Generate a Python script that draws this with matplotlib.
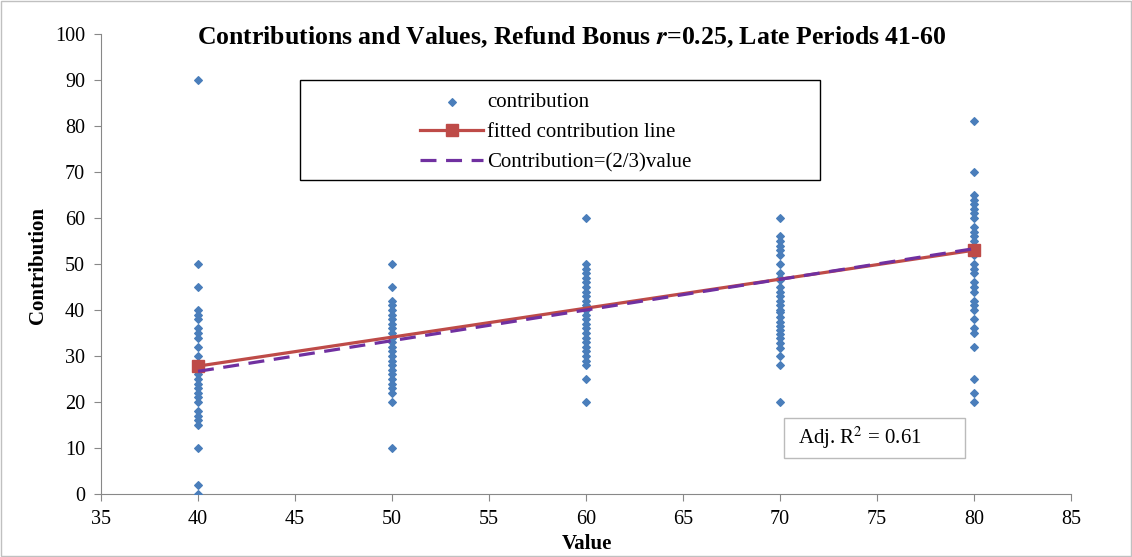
import numpy as np
import matplotlib.pyplot as plt

plt.rcParams['font.family'] = ['Liberation Serif', 'DejaVu Serif']
plt.rcParams['mathtext.fontset'] = 'stix'

# contributions, grouped by value
contrib_40 = [90, 50, 45, 40, 39, 38, 36, 35, 34, 32, 30, 28, 27, 26, 25, 24, 23,
              22, 21, 20, 18, 17, 16, 15, 10, 2, 0]
contrib_50 = [50, 45, 42, 41, 40, 39, 38, 37, 36, 35, 34, 33, 32, 31, 30, 29, 28,
              27, 26, 25, 24, 23, 22, 20, 10]
contrib_60 = [60, 50, 49, 48, 47, 46, 45, 44, 43, 42, 41, 40, 39, 38, 37, 36, 35,
              34, 33, 32, 31, 30, 29, 28, 25, 20]
contrib_70 = [60, 56, 55, 54, 53, 52, 50, 48, 47, 46.5, 45, 44, 43, 42, 41, 40, 39.5,
              38.5, 37.5, 36.5, 35.6, 34.7, 33.9, 32.8, 31.7, 30, 28, 20]
contrib_80 = [81, 70, 65, 64, 63, 62, 61, 60, 58, 57, 56, 55, 54, 52, 50, 49, 48,
              46, 45, 44, 42, 41, 40, 38, 36, 35, 32, 25, 22, 20]
groups = {40: contrib_40, 50: contrib_50, 60: contrib_60, 70: contrib_70, 80: contrib_80}

fit_x = [40, 80]
fit_y = [27.8, 53.0]
ref_x = [40, 80]
ref_y = [40 * 2 / 3, 80 * 2 / 3]

xs = []
ys = []
for v, c in groups.items():
    xs += [v] * len(c)
    ys += c

W, H = 1132, 557
fig = plt.figure(figsize=(W / 100, H / 100), dpi=100)
ax = fig.add_axes([101 / W, 1 - 494 / H, 970 / W, 460 / H])

ax.scatter(xs, ys, marker='D', s=15, color='#4a7ebb', zorder=3, label='contribution')
ax.plot(fit_x, fit_y, color='#be4b48', lw=2.3, marker='s', ms=9, zorder=4,
        label='fitted contribution line')
ax.plot(ref_x, ref_y, color='#7030a0', lw=2.3, ls=(0, (5, 3)), zorder=4,
        label='Contribution=(2/3)value')

ax.set_xlim(35, 85)
ax.set_ylim(0, 100)
ax.set_xticks(range(35, 90, 5))
ax.set_yticks(range(0, 110, 10))
ax.tick_params(labelsize=14.5, direction='out', length=5, color='#888888', pad=6.5)
for s in ['top', 'right']:
    ax.spines[s].set_visible(False)
for s in ['left', 'bottom']:
    ax.spines[s].set_color('#888888')

fig.text(587 / W, 1 - 544 / H, 'Value', fontsize=15, fontweight='bold', ha='center', va='center')
fig.text(38 / W, 1 - 265 / H, 'Contribution', fontsize=15, fontweight='bold',
         ha='center', va='center', rotation=90)
fig.text(572 / W, 1 - 37 / H,
         'Contributions and Values, Refund Bonus $\\mathbfit{r}$=0.25, Late Periods 41-60',
         ha='center', va='center', fontsize=18.5, fontweight='bold')

# legend box (drawn inside the axes so the legend sits on top of it)
ax.add_patch(plt.Rectangle((300 / W, 1 - 180 / H), 520 / W, 100 / H, transform=fig.transFigure,
                           fc='white', ec='black', lw=1.0, zorder=4.5, clip_on=False))
leg = ax.legend(loc='upper left', bbox_to_anchor=(410 / W, 1 - 82 / H),
                bbox_transform=fig.transFigure, fontsize=15, frameon=False,
                labelspacing=0.5, handlelength=3.0, handletextpad=0.2, borderpad=0)
leg.set_zorder(6)

# R^2 box
ax.add_patch(plt.Rectangle((784 / W, 1 - 458 / H), 181 / W, 40 / H, transform=fig.transFigure,
                           fc='white', ec='#bbbbbb', lw=1.0, zorder=4.5, clip_on=False))
ax.text(798 / W, 1 - 438 / H, 'Adj. R$^2$ = 0.61', fontsize=15, va='center', ha='left',
        transform=fig.transFigure, zorder=6)

fig.add_artist(plt.Rectangle((0.001, 0.001), 0.998, 0.998, transform=fig.transFigure,
                             fill=False, ec='#c0c0c0', lw=1))

fig.savefig('out.png', dpi=100)
